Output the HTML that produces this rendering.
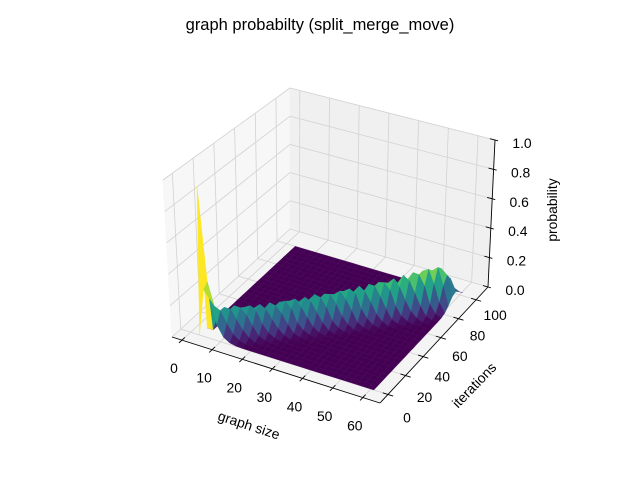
<!DOCTYPE html>
<html><head><meta charset="utf-8"><style>
html,body{margin:0;padding:0;background:#fff;}
svg{display:block;font-family:"Liberation Sans","DejaVu Sans",sans-serif;}
</style></head><body>
<svg id="chart" width="640" height="480" viewBox="0 0 640 480" xmlns="http://www.w3.org/2000/svg">
<rect width="640" height="480" fill="#fff"/>
<text x="320" y="30" text-anchor="middle" font-size="16.5" fill="#000">graph probabilty (split_merge_move)</text>
<g id="panes"></g>
<g id="grid"></g>
<g id="surface"></g>
<g id="axes"></g>
<text x="249" y="430" text-anchor="middle" font-size="13.9" transform="rotate(18 249 425)">graph size</text>
<text x="474" y="390" text-anchor="middle" font-size="13.9" transform="rotate(-46 474 385)">iterations</text>
<text x="553" y="214" text-anchor="middle" font-size="13.9" transform="rotate(-90 553 210)">probability</text>
</svg>
<script>
// data
const xs = [3,5,7,9,11,13,15,17,19,21,23,25,27,29,31,33,35,37,39,41,43,45,47,49,51,53,55,57,59,61];
const ys = [0,4,8,12,16,20,24,28,32,36,40,44,48,52,56,60,64,68,72,76,80,84,88,92,96,100];
const ridgeCenter = [-3,0,3,6,10,13,16,19,23,26,29,32,36,39,42,45,49,52,55,59,62,65,68,72,75,78,81,85,88,91];
const ridgePeak = [0,0,0.19,0.18,0.18,0.17,0.17,0.17,0.17,0.17,0.18,0.18,0.18,0.19,0.19,0.19,0.2,0.2,0.21,0.21,0.22,0.22,0.23,0.24,0.25,0.26,0.27,0.27,0.2,0.08];
const ridgeWidth = 5.5;
const spikes = [[0,1,0.93],[1,0,0.3],[1,1,0.33],[2,0,0.25]];
const xTicks = [0,10,20,30,40,50,60];
const yTicks = [0,20,40,60,80,100];
const zTicks = [0,0.2,0.4,0.6,0.8,1.0];
const zTickLabels = ["0.0","0.2","0.4","0.6","0.8","1.0"];

const NS="http://www.w3.org/2000/svg";
const xlo=-3.3,xhi=65.7,ylo=-9,yhi=113.5;
const A=[172,337],B=[380,403],C=[488,287],D=[290,229];
const At=[163,180],Bt=[383,238],Ct=[495,140],Dt=[290,88];
function bil(p,q,r,s,u,v){return [
 p[0]*(1-u)*(1-v)+q[0]*u*(1-v)+r[0]*u*v+s[0]*(1-u)*v,
 p[1]*(1-u)*(1-v)+q[1]*u*(1-v)+r[1]*u*v+s[1]*(1-u)*v];}
function P(x,y,z){const u=(x-xlo)/(xhi-xlo),v=(y-ylo)/(yhi-ylo);
 const f=bil(A,B,C,D,u,v),t=bil(At,Bt,Ct,Dt,u,v);
 return [f[0]+z*(t[0]-f[0]),f[1]+z*(t[1]-f[1])];}
function pts(a){return a.map(p=>p[0].toFixed(1)+','+p[1].toFixed(1)).join(' ');}
function mk(tag,attrs,parent){const e=document.createElementNS(NS,tag);for(const k in attrs)e.setAttribute(k,attrs[k]);parent.appendChild(e);return e;}

// panes
const panes=document.getElementById('panes');
let e;
e=mk('polygon',{points:pts([P(xlo,ylo,0),P(xlo,yhi,0),P(xlo,yhi,1),P(xlo,ylo,1)]),fill:'#f7f7f7',stroke:'#f7f7f7'},panes);


e=mk('polygon',{points:pts([P(xlo,yhi,0),P(xhi,yhi,0),P(xhi,yhi,1),P(xlo,yhi,1)]),fill:'#f0f0f0',stroke:'#f0f0f0'},panes);


e=mk('polygon',{points:pts([P(xlo,ylo,0),P(xhi,ylo,0),P(xhi,yhi,0),P(xlo,yhi,0)]),fill:'#f4f4f4',stroke:'#f4f4f4'},panes);



// grid
const grid=document.getElementById('grid');
function gl(a,b){const l=mk('line',{x1:a[0],y1:a[1],x2:b[0],y2:b[1],stroke:'#d2d2d2','stroke-width':0.8},grid);
 
 }
xTicks.forEach(x=>{gl(P(x,ylo,0),P(x,yhi,0));gl(P(x,yhi,0),P(x,yhi,1));});
yTicks.forEach(y=>{gl(P(xlo,y,0),P(xhi,y,0));gl(P(xlo,y,0),P(xlo,y,1));});
zTicks.forEach(z=>{gl(P(xlo,ylo,z),P(xlo,yhi,z));gl(P(xlo,yhi,z),P(xhi,yhi,z));});

// surface
const Z=xs.map((x,i)=>ys.map(y=>ridgePeak[i]*Math.exp(-0.5*Math.pow((y-ridgeCenter[i])/ridgeWidth,2))));
spikes.forEach(s=>{Z[s[0]][s[1]]=s[2];});
const vir=['#440154','#482475','#414487','#355f8d','#2a788e','#21918c','#22a884','#44bf70','#7ad151','#bddf26','#fde725'];
function hex(h){return [parseInt(h.substr(1,2),16),parseInt(h.substr(3,2),16),parseInt(h.substr(5,2),16)];}
function cmap(t){t=Math.max(0,Math.min(1,t));const f=t*10,i=Math.min(9,Math.floor(f)),r=f-i;const a=hex(vir[i]),b=hex(vir[i+1]);
 return 'rgb('+a.map((c,k)=>Math.round(c+(b[k]-c)*r)).join(',')+')';}
const faces=[];const vmax=0.3;
for(let i=0;i<xs.length-1;i++)for(let j=0;j<ys.length-1;j++){
 const avg=(Z[i][j]+Z[i+1][j]+Z[i+1][j+1]+Z[i][j+1])/4;
 const u=((xs[i]+xs[i+1])/2-xlo)/(xhi-xlo),v=((ys[j]+ys[j+1])/2-ylo)/(yhi-ylo);
 faces.push({i,j,avg,d:0.5*u-0.866*v});}
faces.sort((a,b)=>a.d-b.d);
const surf=document.getElementById('surface');
faces.forEach(f=>{const i=f.i,j=f.j;
 const poly=[P(xs[i],ys[j],Z[i][j]),P(xs[i+1],ys[j],Z[i+1][j]),P(xs[i+1],ys[j+1],Z[i+1][j+1]),P(xs[i],ys[j+1],Z[i][j+1])];
 const col=cmap(f.avg/vmax);
 const p=mk('polygon',{points:pts(poly),fill:col,stroke:col,'stroke-width':0.3},surf);
 
 });

// axes
const ax=document.getElementById('axes');
function al(a,b,name){const l=mk('line',{x1:a[0],y1:a[1],x2:b[0],y2:b[1],stroke:'#000','stroke-width':0.9},ax);
 
 }
function tx(x,y,s,name){const t=mk('text',{x:x,y:y,'text-anchor':'middle','font-size':13.9,'dominant-baseline':'central'},ax);t.textContent=s;
 
 }
al(P(xlo,ylo,0),P(xhi,ylo,0),'x-axis-line');
al(P(xhi,ylo,0),P(xhi,yhi,0),'y-axis-line');
al(P(xhi,yhi,0),P(xhi,yhi,1),'z-axis-line');
const dy=(yhi-ylo)*0.025,dx=(xhi-xlo)*0.025;
xTicks.forEach(x=>{al(P(x,ylo+dy,0),P(x,ylo-dy,0),'x-tick');const p=P(x,ylo,0);tx(p[0]-8,p[1]+28,String(x),'x-tick-label');});
yTicks.forEach(y=>{al(P(xhi-dx,y,0),P(xhi+dx,y,0),'y-tick');const p=P(xhi,y,0);const v=(y-ylo)/(yhi-ylo);tx(p[0]+19,p[1]+24-10*v,String(y),'y-tick-label');});
zTicks.forEach((z,k)=>{al(P(xhi-dx,yhi,z),P(xhi+dx*0.6,yhi,z),'z-tick');const p=P(xhi,yhi,z);tx(p[0]+27,p[1]+3,zTickLabels[k],'z-tick-label');});
</script>
</body></html>
